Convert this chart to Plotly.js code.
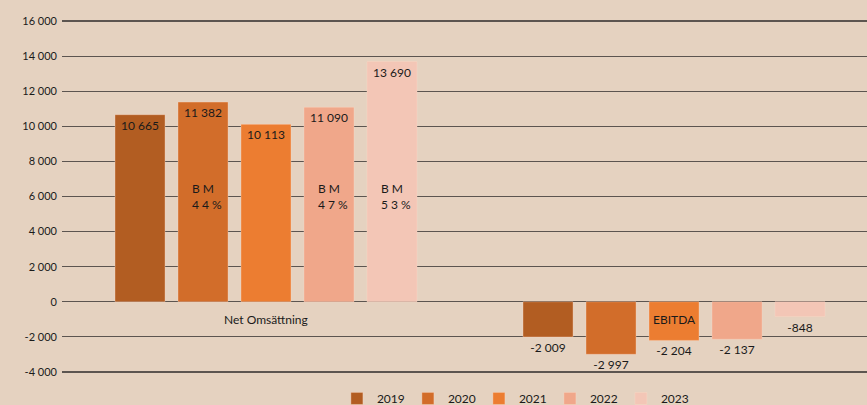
<!DOCTYPE html>
<html>
<head>
<meta charset="utf-8">
<script src="https://cdn.plot.ly/plotly-3.0.1.min.js"></script>
<style>html,body{margin:0;padding:0;background:#E5D2C0;}</style>
</head>
<body>
<div id="chart" style="width:867px;height:405px;"></div>
<script>
const categories = ['Net Omsättning', 'EBITDA'];
const years = ['2019', '2020', '2021', '2022', '2023'];
const values2019 = [10665, -2009];
const values2020 = [11382, -2997];
const values2021 = [10113, -2204];
const values2022 = [11090, -2137];
const values2023 = [13690, -848];
const bmPercent = [null, 44, null, 47, 53];
const tickVals = [-4000, -2000, 0, 2000, 4000, 6000, 8000, 10000, 12000, 14000, 16000];
const colors = ['#B25D22', '#D26D2A', '#EC7D31', '#F0A78A', '#F3C6B6'];

const series = [values2019, values2020, values2021, values2022, values2023];
function fmt(v) {
  const s = Math.abs(v).toString().replace(/\B(?=(\d{3})+(?!\d))/g, ' ');
  return (v < 0 ? '-' : '') + s;
}
const font = 'Lato, "Noto Sans", sans-serif';
const xIdx = categories.map((c, i) => i);

const traces = series.map((vals, i) => ({
  type: 'bar',
  name: years[i],
  x: xIdx,
  y: vals,
  marker: {color: colors[i], line: {color: 'rgba(255,220,200,0.35)', width: 1}},
  text: vals.map(fmt),
  textposition: vals.map(v => v >= 0 ? 'inside' : 'outside'),
  insidetextanchor: 'end',
  textangle: 0,
  constraintext: 'none',
  cliponaxis: false,
  textfont: {family: font, size: 12, color: '#1a1a1a'},
  insidetextfont: {family: font, size: 12, color: '#1a1a1a'},
  outsidetextfont: {family: font, size: 12, color: '#1a1a1a'},
  hoverinfo: 'none'
}));

const bargap = 0.228;
const slot = (1 - bargap) / years.length;
const annotations = [];
categories.forEach((c, i) => {
  annotations.push({
    x: i, y: 0, xref: 'x', yref: 'y', text: c, showarrow: false,
    yanchor: 'top', yshift: -8,
    font: {family: font, size: 12, color: '#1a1a1a'}
  });
});
bmPercent.forEach((p, j) => {
  if (p === null) return;
  const digits = String(p).split('').join(' ');
  annotations.push({
    x: 0 + (j - 2) * slot, y: 6000, xref: 'x', yref: 'y', xshift: 4,
    text: 'B M<br>' + digits + ' %', showarrow: false, align: 'left',
    font: {family: font, size: 12, color: '#1a1a1a'}
  });
});

const layout = {
  width: 867, height: 405,
  margin: {l: 62, r: 0, t: 19, b: 31, pad: 0, autoexpand: false},
  paper_bgcolor: '#E5D2C0',
  plot_bgcolor: '#E5D2C0',
  barmode: 'group',
  bargap: bargap,
  bargroupgap: 0.206,
  showlegend: true,
  legend: {
    orientation: 'h', x: 0.562, xanchor: 'center', y: -0.028, yanchor: 'top',
    font: {family: font, size: 12, color: '#1a1a1a'},
    bgcolor: 'rgba(0,0,0,0)', itemwidth: 30, entrywidth: 26, traceorder: 'normal'
  },
  xaxis: {
    type: 'linear', range: [-0.5, 1.473], showgrid: false, zeroline: false,
    showticklabels: false, ticks: '', showline: false, fixedrange: true
  },
  yaxis: {
    range: [-4120, 16120], tickvals: tickVals,
    ticktext: tickVals.map(fmt),
    showgrid: true, gridcolor: '#5c5550', gridwidth: 1.3,
    zeroline: true, zerolinecolor: '#5c5550', zerolinewidth: 1.3,
    showline: false, ticks: '', ticklabelstandoff: 4,
    tickfont: {family: font, size: 11, color: '#1a1a1a'}
  },
  annotations: annotations,
  font: {family: font}
};

Plotly.newPlot('chart', traces, layout, {displayModeBar: false, staticPlot: true});
</script>
</body>
</html>
